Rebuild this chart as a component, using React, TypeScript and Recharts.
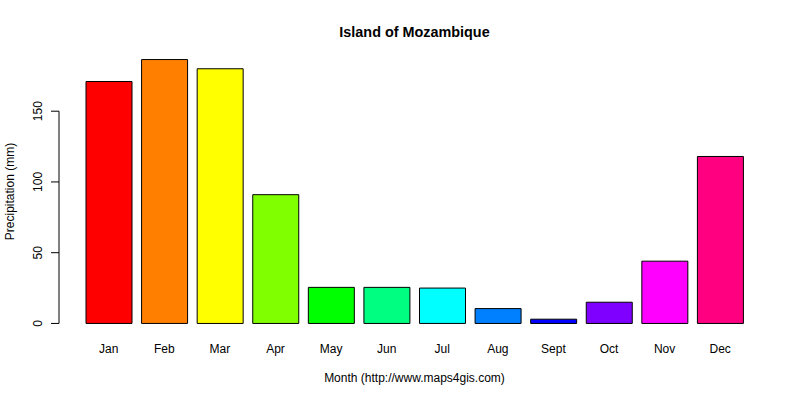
import React from "react";
import { BarChart, Bar, Cell, XAxis, YAxis } from "recharts";

const months = ["Jan", "Feb", "Mar", "Apr", "May", "Jun", "Jul", "Aug", "Sept", "Oct", "Nov", "Dec"];
const precipitation = [171, 186.5, 180, 91, 25.5, 25.5, 25, 10.5, 3, 15, 44, 118];
const barColors = [
  "#FF0000", "#FF8000", "#FFFF00", "#80FF00", "#00FF00", "#00FF80",
  "#00FFFF", "#0080FF", "#0000FF", "#8000FF", "#FF00FF", "#FF0080",
];
const yTicks = [0, 50, 100, 150];

const FONT = "'Liberation Sans', Arial, sans-serif";
const WIDTH = 800;
const HEIGHT = 400;
const MARGIN = { top: 49, right: 30, bottom: 0, left: 0 };
const X_AXIS_H = 66;
const Y_AXIS_W = 59;

// R-style axis range: 4% padding around 0..max
const yMax = Math.max(...precipitation);
const yDomain: [number, number] = [-0.04 * yMax, 1.04 * yMax];
const plotH = HEIGHT - MARGIN.top - MARGIN.bottom - X_AXIS_H;
const pxPerUnit = plotH / (yDomain[1] - yDomain[0]);

const data = months.map((m, i) => ({ month: m, value: precipitation[i] }));

const XTick = (props: any) => {
  const { x, y, payload } = props;
  return (
    <text x={x} y={y + 6.5} textAnchor="middle" dominantBaseline="central" fontSize={12} fontFamily={FONT} fill="#000">
      {payload.value}
    </text>
  );
};

const YTick = (props: any) => {
  const { x, y, payload, index } = props;
  const axisX = x + 10;
  return (
    <g>
      {index === 0 && (
        <line
          x1={axisX}
          x2={axisX}
          y1={y}
          y2={y - yTicks[yTicks.length - 1] * pxPerUnit}
          stroke="#000"
          strokeWidth={1}
        />
      )}
      <text
        x={x - 7}
        y={y}
        transform={`rotate(-90, ${x - 7}, ${y})`}
        textAnchor="middle"
        fontSize={12}
        fontFamily={FONT}
        fill="#000"
      >
        {payload.value}
      </text>
    </g>
  );
};

const YLabel = (props: any) => {
  const { viewBox } = props;
  const cx = viewBox.x + 14;
  const cy = viewBox.y + viewBox.height / 2;
  return (
    <text x={cx} y={cy} transform={`rotate(-90, ${cx}, ${cy})`} textAnchor="middle" fontSize={12} fontFamily={FONT} fill="#000">
      Precipitation (mm)
    </text>
  );
};

const XLabel = (props: any) => {
  const { viewBox } = props;
  return (
    <text x={viewBox.x + viewBox.width / 2} y={378} textAnchor="middle" dominantBaseline="central" fontSize={12} fontFamily={FONT} fill="#000">
      Month (http://www.maps4gis.com)
    </text>
  );
};

export default function App() {
  return (
    <div style={{ position: "absolute", left: 0, top: 0, width: WIDTH, height: HEIGHT, background: "#fff" }}>
      <div
        style={{
          position: "absolute",
          left: Y_AXIS_W,
          width: WIDTH - Y_AXIS_W - MARGIN.right,
          top: 25,
          lineHeight: "14px",
          textAlign: "center",
          fontFamily: FONT,
          fontWeight: "bold",
          fontSize: 14.4,
          color: "#000",
        }}
      >
        Island of Mozambique
      </div>
      <BarChart width={WIDTH} height={HEIGHT} data={data} margin={MARGIN} barSize={46}>
        <XAxis
          dataKey="month"
          height={X_AXIS_H}
          padding={{ left: 22, right: 22 }}
          axisLine={false}
          tickLine={false}
          interval={0}
          tick={<XTick />}
          label={(p: any) => <XLabel {...p} />}
        />
        <YAxis
          width={Y_AXIS_W}
          domain={yDomain}
          ticks={yTicks}
          allowDataOverflow
          axisLine={false}
          tickSize={8}
          tickLine={{ stroke: "#000", strokeWidth: 1 }}
          tick={<YTick />}
          label={(p: any) => <YLabel {...p} />}
        />
        <Bar dataKey="value" stroke="#000" strokeWidth={1} isAnimationActive={false}>
          {data.map((d, i) => (
            <Cell key={d.month} fill={barColors[i]} />
          ))}
        </Bar>
      </BarChart>
    </div>
  );
}
